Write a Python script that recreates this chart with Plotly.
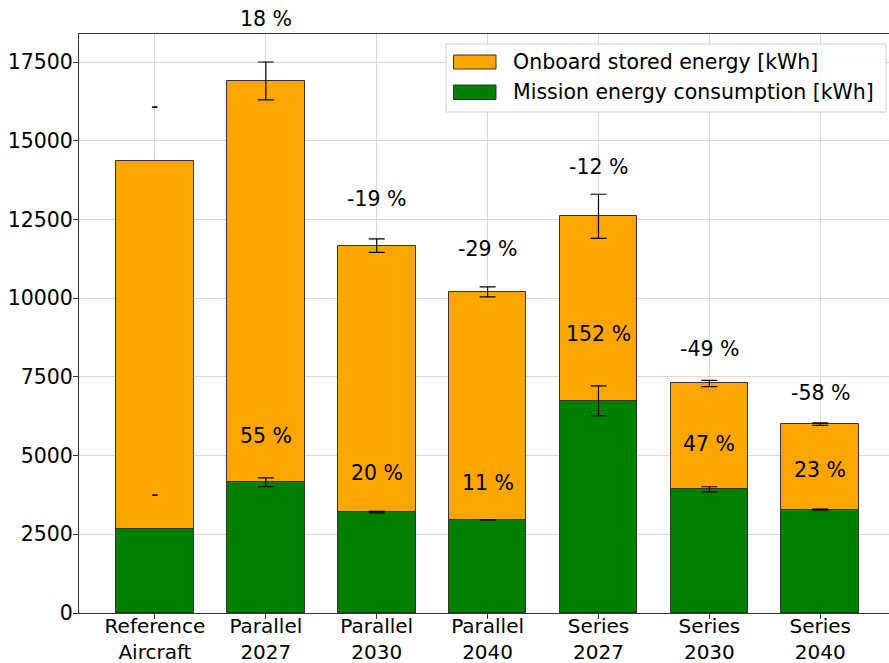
import plotly.graph_objects as go

# Aircraft configurations
categories = ["Reference<br>Aircraft", "Parallel<br>2027", "Parallel<br>2030", "Parallel<br>2040",
              "Series<br>2027", "Series<br>2030", "Series<br>2040"]

# Energy values [kWh] and their uncertainties (None = no error bar)
stored_energy = [14370, 16900, 11670, 10200, 12600, 7290, 6000]
stored_err = [None, 600, 215, 160, 700, 100, 40]
mission_energy = [2670, 4150, 3205, 2960, 6740, 3930, 3285]
mission_err = [None, 140, 25, 10, 475, 80, 15]

# Relative changes against the reference aircraft
stored_change = ["-", "18 %", "-19 %", "-29 %", "-12 %", "-49 %", "-58 %"]
mission_change = ["-", "55 %", "20 %", "11 %", "152 %", "47 %", "23 %"]

ORANGE = "#FFA500"
GREEN = "#008000"
EDGE = "#333333"
FONT = "DejaVu Sans"
FS = 20.5
YMAX = 18390

x = list(range(len(categories)))

fig = go.Figure()
fig.add_trace(go.Bar(
    x=x, y=stored_energy, width=0.7, name="Onboard stored energy [kWh]",
    marker=dict(color=ORANGE, line=dict(color=EDGE, width=1)), showlegend=False,
))
fig.add_trace(go.Bar(
    x=x, y=mission_energy, width=0.7, name="Mission energy consumption [kWh]",
    marker=dict(color=GREEN, line=dict(color=EDGE, width=1)), showlegend=False,
))

# Error bars only where an uncertainty exists
for vals, errs in [(stored_energy, stored_err), (mission_energy, mission_err)]:
    idx = [i for i, e in enumerate(errs) if e is not None]
    fig.add_trace(go.Scatter(
        x=[x[i] for i in idx], y=[vals[i] for i in idx], mode="markers",
        marker=dict(size=1, opacity=0),
        error_y=dict(type="data", array=[errs[i] for i in idx], color="black", thickness=1.2, width=8),
        showlegend=False, hoverinfo="skip",
    ))

annotations = []
for xi, tot, g, t_lab, m_lab in zip(x, stored_energy, mission_energy, stored_change, mission_change):
    annotations.append(dict(x=xi, xref="x", y=tot * 1.09 / YMAX, yref="paper", text=t_lab,
                            showarrow=False, yanchor="bottom",
                            font=dict(family=FONT, size=FS, color="black")))
    annotations.append(dict(x=xi, xref="x", y=g * 1.25 / YMAX, yref="paper", text=m_lab,
                            showarrow=False, yanchor="bottom",
                            font=dict(family=FONT, size=FS, color="black")))

# Legend box drawn in paper coordinates
W, H = 889, 663
L, T, B = 79, 34, 50
pw, ph = W - L, H - T - B


def px(v):
    return (v - L) / pw


def py(v):
    return (H - B - v) / ph


shapes = [
    dict(type="rect", xref="paper", yref="paper", x0=px(446), x1=px(886), y0=py(112), y1=py(44),
         fillcolor="rgba(255,255,255,0.85)", line=dict(color="#d0d0d0", width=1), layer="above"),
    dict(type="rect", xref="paper", yref="paper", x0=px(453.5), x1=px(496), y0=py(69), y1=py(55),
         fillcolor=ORANGE, line=dict(color=EDGE, width=1), layer="above"),
    dict(type="rect", xref="paper", yref="paper", x0=px(453.5), x1=px(496), y0=py(99.5), y1=py(85),
         fillcolor=GREEN, line=dict(color=EDGE, width=1), layer="above"),
]
for yy, label in [(62, "Onboard stored energy [kWh]"), (92, "Mission energy consumption [kWh]")]:
    annotations.append(dict(xref="paper", yref="paper", x=px(511), y=py(yy), text=label,
                            showarrow=False, xanchor="left", yanchor="middle",
                            font=dict(family=FONT, size=FS, color="black")))

fig.update_layout(
    width=W, height=H,
    margin=dict(l=L, r=0, t=T, b=B),
    barmode="overlay",
    plot_bgcolor="white", paper_bgcolor="white",
    font=dict(family=FONT, size=FS, color="black"),
    annotations=annotations,
    shapes=shapes,
    bargap=0,
)
fig.update_xaxes(
    range=[-0.685, 6.62], tickmode="array", tickvals=x, ticktext=categories,
    showgrid=True, gridcolor="#d9d9d9", gridwidth=1,
    showline=True, linecolor="#333333", linewidth=1, mirror=True,
    ticks="outside", ticklen=5, tickcolor="#333333",
    tickfont=dict(family=FONT, size=20, color="black"),
    ticklabelstandoff=-10,
    automargin=False,
)
fig.update_yaxes(
    range=[0, YMAX], tickvals=[0, 2500, 5000, 7500, 10000, 12500, 15000, 17500],
    tickformat="d",
    showgrid=True, gridcolor="#d9d9d9", gridwidth=1, zeroline=False,
    showline=True, linecolor="#333333", linewidth=1,
    ticks="outside", ticklen=5, tickcolor="#333333",
    tickfont=dict(family=FONT, size=FS, color="black"),
    ticklabelstandoff=-4,
    automargin=False,
)

fig.write_html("out.html")
